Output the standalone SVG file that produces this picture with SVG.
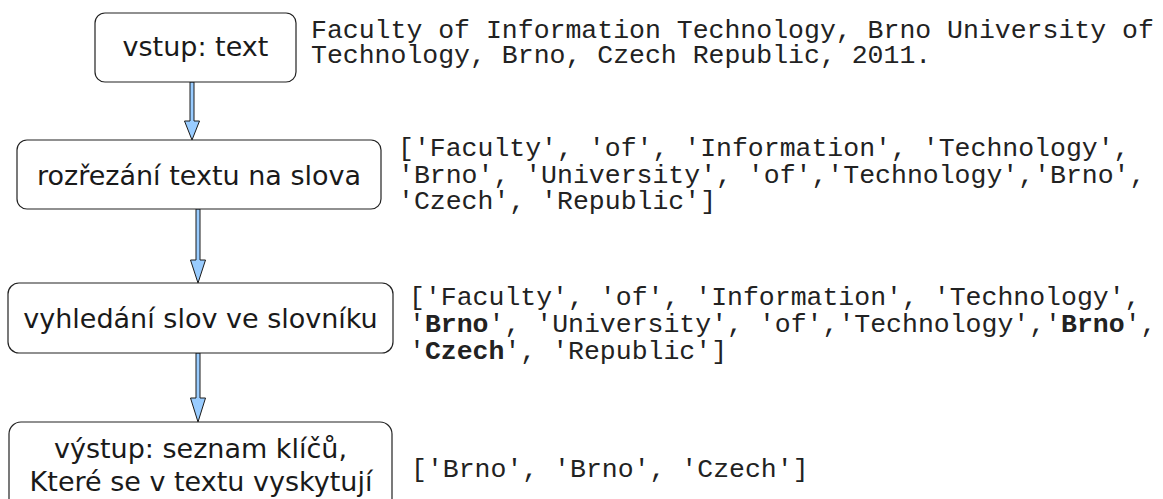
<svg xmlns="http://www.w3.org/2000/svg" width="1163" height="499" viewBox="0 0 1163 499">
  <style>
    .box { fill: #ffffff; stroke: #222222; stroke-width: 1.2; }
    .label { font-family: "DejaVu Sans", sans-serif; font-size: 27px; fill: #1a1a1a; text-anchor: middle; }
    .mono { font-family: "Liberation Mono", "Courier New", monospace; font-size: 26.5px; fill: #222222; }
    .mono .b { font-weight: bold; }
    .arrow { fill: #99ccff; stroke: #1a1a1a; stroke-width: 1; stroke-linejoin: miter; }
  </style>

  <!-- flow arrows between the steps -->
  <g id="connectors">
    <path class="arrow" d="M190,82 L194,82 L194,121 L199.5,121 L192,140 L184.5,121 L190,121 Z"/>
    <path class="arrow" d="M196,209 L200,209 L200,260 L205.5,260 L198,283 L190.5,260 L196,260 Z"/>
    <path class="arrow" d="M196,353 L200,353 L200,398 L205.5,398 L198,422 L190.5,398 L196,398 Z"/>
  </g>

  <g id="input">
    <rect class="box" x="95" y="13" width="201" height="69" rx="10" ry="10"/>
    <text class="label" x="195.5" y="56">vstup: text</text>
  </g>

  <g id="tokenize">
    <rect class="box" x="17" y="140" width="364" height="69" rx="10" ry="10"/>
    <text class="label" x="199" y="185">rozřezání textu na slova</text>
  </g>

  <g id="lookup">
    <rect class="box" x="8" y="283" width="385" height="70" rx="11" ry="11"/>
    <text class="label" x="200.5" y="328">vyhledání slov ve slovníku</text>
  </g>

  <g id="output">
    <rect class="box" x="9" y="422" width="383" height="90" rx="12" ry="12"/>
    <text class="label" x="200.5" y="458">výstup: seznam klíčů,</text>
    <text class="label" x="201" y="491">Které se v textu vyskytují</text>
  </g>

  <!-- example data next to each step -->
  <g id="sample-input" class="mono">
    <text x="311" y="38">Faculty of Information Technology, Brno University of</text>
    <text x="311" y="63">Technology, Brno, Czech Republic, 2011.</text>
  </g>

  <g id="sample-tokens" class="mono">
    <text x="398" y="156">['Faculty', 'of', 'Information', 'Technology',</text>
    <text x="398" y="182.5">'Brno', 'University', 'of','Technology','Brno',</text>
    <text x="398" y="209">'Czech', 'Republic']</text>
  </g>

  <g id="sample-matches" class="mono">
    <text x="409" y="305">['Faculty', 'of', 'Information', 'Technology',</text>
    <text x="409" y="332">'<tspan class="b">Brno</tspan>', 'University', 'of','Technology','<tspan class="b">Brno</tspan>',</text>
    <text x="409" y="359">'<tspan class="b">Czech</tspan>', 'Republic']</text>
  </g>

  <g id="sample-output" class="mono">
    <text x="411" y="477">['Brno', 'Brno', 'Czech']</text>
  </g>
</svg>
